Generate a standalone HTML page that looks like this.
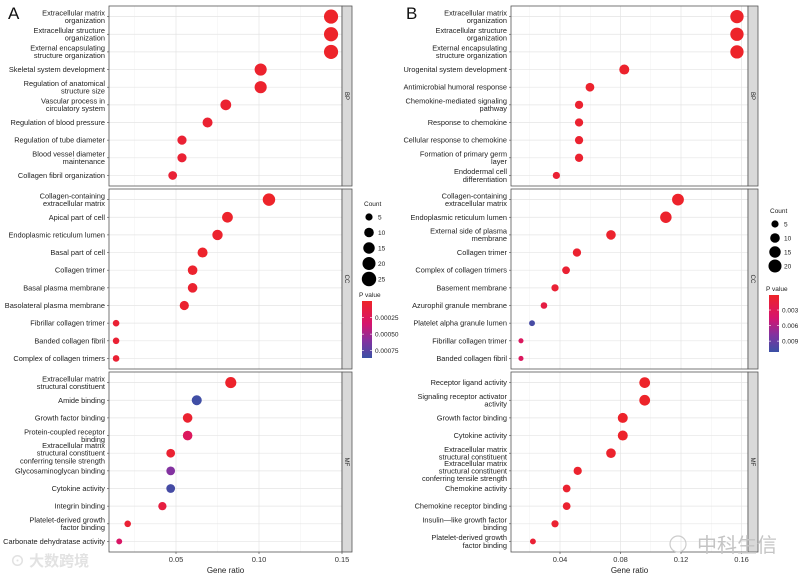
<!DOCTYPE html>
<html><head><meta charset="utf-8">
<style>
html,body{margin:0;padding:0;background:#fff;}
svg{display:block;font-family:"Liberation Sans","Noto Sans CJK SC",sans-serif;}
</style></head>
<body>
<svg id="chart" width="800" height="576" viewBox="0 0 800 576"></svg>
<script>
// ---------- Panel A data ----------
const aBPTerms=["Extracellular matrix\norganization","Extracellular structure\norganization","External encapsulating\nstructure organization","Skeletal system development","Regulation of anatomical\nstructure size","Vascular process in\ncirculatory system","Regulation of blood pressure","Regulation of tube diameter","Blood vessel diameter\nmaintenance","Collagen fibril organization"];
const aBPRatio=[0.1434,0.1434,0.1434,0.101,0.101,0.080,0.069,0.0536,0.0536,0.048];
const aBPCount=[24,24,24,17,17,13,11,9,9,8];
const aBPP=[0.00001,0.00001,0.00001,0.00003,0.00003,0.00004,0.00005,0.00006,0.00006,0.00007];
const aCCTerms=["Collagen-containing\nextracellular matrix","Apical part of cell","Endoplasmic reticulum lumen","Basal part of cell","Collagen trimer","Basal plasma membrane","Basolateral plasma membrane","Fibrillar collagen trimer","Banded collagen fibril","Complex of collagen trimers"];
const aCCRatio=[0.106,0.081,0.075,0.066,0.060,0.060,0.055,0.0139,0.0139,0.0139];
const aCCCount=[18,13,12,11,10,10,9,4,4,4];
const aCCP=[0.00001,0.00002,0.00003,0.00002,0.00003,0.00004,0.00004,0.00006,0.00006,0.00006];
const aMFTerms=["Extracellular matrix\nstructural constituent","Amide binding","Growth factor binding","Protein-coupled receptor\nbinding","Extracellular matrix\nstructural constituent\nconferring tensile strength","Glycosaminoglycan binding","Cytokine activity","Integrin binding","Platelet-derived growth\nfactor binding","Carbonate dehydratase activity"];
const aMFRatio=[0.083,0.0625,0.057,0.057,0.0468,0.0468,0.0468,0.0418,0.0209,0.0158];
const aMFCount=[14,11,10,10,8,8,8,7,4,3];
const aMFP=[0.00002,0.00084,0.00004,0.00026,0.00005,0.00060,0.00082,0.00012,0.00006,0.00030];
const aTicks=[0.05,0.10,0.15];
const aTickLabels=["0.05","0.10","0.15"];
const aCountLegend=[5,10,15,20,25];
const aPTicks=[0.00025,0.00050,0.00075];
const aPTickLabels=["0.00025","0.00050","0.00075"];

// ---------- Panel B data ----------
const bBPTerms=["Extracellular matrix\norganization","Extracellular structure\norganization","External encapsulating\nstructure organization","Urogenital system development","Antimicrobial humoral response","Chemokine-mediated signaling\npathway","Response to chemokine","Cellular response to chemokine","Formation of primary germ\nlayer","Endodermal cell\ndifferentiation"];
const bBPRatio=[0.157,0.157,0.157,0.0825,0.0598,0.0526,0.0526,0.0526,0.0526,0.0376];
const bBPCount=[21,21,21,11,8,7,7,7,7,5];
const bBPP=[0.0002,0.0002,0.0002,0.0004,0.0005,0.0006,0.0006,0.0006,0.0006,0.0008];
const bCCTerms=["Collagen-containing\nextracellular matrix","Endoplasmic reticulum lumen","External side of plasma\nmembrane","Collagen trimer","Complex of collagen trimers","Basement membrane","Azurophil granule membrane","Platelet alpha granule lumen","Fibrillar collagen trimer","Banded collagen fibril"];
const bCCRatio=[0.118,0.110,0.0737,0.0512,0.044,0.0367,0.0294,0.0215,0.0142,0.0142];
const bCCCount=[16,15,10,7,6,5,4,3,2,2];
const bCCP=[0.0003,0.0004,0.0005,0.0006,0.0008,0.0009,0.0018,0.0105,0.0035,0.0035];
const bMFTerms=["Receptor ligand activity","Signaling receptor activator\nactivity","Growth factor binding","Cytokine activity","Extracellular matrix\nstructural constituent","Extracellular matrix\nstructural constituent\nconferring tensile strength","Chemokine activity","Chemokine receptor binding","Insulin\u2014like growth factor\nbinding","Platelet-derived growth\nfactor binding"];
const bMFRatio=[0.096,0.096,0.0815,0.0815,0.0737,0.0517,0.0444,0.0444,0.0367,0.0221];
const bMFCount=[13,13,11,11,10,7,6,6,5,3];
const bMFP=[0.0002,0.0002,0.0003,0.0003,0.0004,0.0005,0.0006,0.0006,0.0007,0.0009];
const bTicks=[0.04,0.08,0.12,0.16];
const bTickLabels=["0.04","0.08","0.12","0.16"];
const bCountLegend=[5,10,15,20];
const bPTicks=[0.003,0.006,0.009];
const bPTickLabels=["0.003","0.006","0.009"];

const NS="http://www.w3.org/2000/svg";
const svg=document.getElementById('chart');
function mk(tag,attrs,parent){const e=document.createElementNS(NS,tag);for(const k in attrs)e.setAttribute(k,attrs[k]);(parent||svg).appendChild(e);return e;}

const stops=[[0,[238,36,40]],[0.4,[214,20,110]],[0.7,[130,50,160]],[1,[58,80,165]]];
function pColor(t){t=Math.max(0,Math.min(1,t));for(let i=1;i<stops.length;i++){if(t<=stops[i][0]){const a=stops[i-1],b=stops[i];const f=(t-a[0])/(b[0]-a[0]);const c=a[1].map((v,j)=>Math.round(v+(b[1][j]-v)*f));return `rgb(${c[0]},${c[1]},${c[2]})`;}}return 'rgb(58,80,165)';}

function drawPanel(cfg){
  const g=mk('g',{});
  
  
  const xS=v=>cfg.x0+v*cfg.k;
  const rS=c=>1.3*Math.sqrt(c)+0.7;
  const pT=p=>(p-cfg.pMin)/(cfg.pMax-cfg.pMin);
  const tops=[6,189,372], H=180, step=17.65;
  const onts=['BP','CC','MF'];
  cfg.facets.forEach((f,fi)=>{
    const t=tops[fi];
    const pg=mk('g',{},g);
    
    
    mk('rect',{x:cfg.left,y:t,width:cfg.right-cfg.left,height:H,fill:'#fff'},pg);
    const minors=[];
    for(let i=0;i<cfg.ticks.length;i++){minors.push(cfg.ticks[i]-cfg.tstep/2);}
    minors.push(cfg.ticks[cfg.ticks.length-1]+cfg.tstep/2);
    minors.forEach(v=>{const x=xS(v);if(x>cfg.left&&x<cfg.right)mk('line',{x1:x,x2:x,y1:t,y2:t+H,stroke:'#f2f2f2','stroke-width':0.5},pg);});
    cfg.ticks.forEach(v=>{const x=xS(v);if(x>cfg.left&&x<cfg.right)mk('line',{x1:x,x2:x,y1:t,y2:t+H,stroke:'#e4e4e4','stroke-width':0.7},pg);});
    f.terms.forEach((term,i)=>{
      const y=t+10.6+i*step;
      mk('line',{x1:cfg.left,x2:cfg.right,y1:y,y2:y,stroke:'#e4e4e4','stroke-width':0.7},pg);
      mk('line',{x1:cfg.left-2,x2:cfg.left,y1:y,y2:y,stroke:'#444','stroke-width':0.6},pg);
      const lines=term.split('\n');
      const tx=mk('text',{x:cfg.left-4,y:0,'font-size':7.4,fill:'#222','text-anchor':'end'},pg);
      
      
      lines.forEach((ln,j)=>{const ts=mk('tspan',{x:cfg.left-4,y:y+2.5+(j-(lines.length-1)/2)*7.6},tx);ts.textContent=ln;});
    });
    f.terms.forEach((term,i)=>{
      const y=t+10.6+i*step;
      const c=mk('circle',{cx:xS(f.ratio[i]),cy:y,r:rS(f.count[i]),fill:pColor(pT(f.p[i]))},pg);
      
      
    });
    mk('rect',{x:cfg.left,y:t,width:cfg.right-cfg.left,height:H,fill:'none',stroke:'#555','stroke-width':0.8},pg);
    const st=mk('rect',{x:cfg.right,y:t,width:10,height:H,fill:'#d9d9d9',stroke:'#555','stroke-width':0.8},pg);
    
    
    const sl=mk('text',{x:0,y:0,'font-size':6,fill:'#222','text-anchor':'middle',transform:`translate(${cfg.right+3},${t+H/2}) rotate(90)`},pg);
    sl.textContent=onts[fi];
  });
  const yb=552;
  cfg.ticks.forEach((v,i)=>{
    const x=xS(v);
    mk('line',{x1:x,x2:x,y1:yb,y2:yb+2,stroke:'#444','stroke-width':0.6},g);
    const tl=mk('text',{x:x,y:yb+10,'font-size':7.5,fill:'#333','text-anchor':'middle'},g);
    
    
    tl.textContent=cfg.tickLabels[i];
  });
  const at=mk('text',{x:(cfg.left+cfg.right)/2,y:yb+21,'font-size':8,fill:'#222','text-anchor':'middle'},g);
  
  
  at.textContent='Gene ratio';
  const pl=mk('text',{x:cfg.letterX,y:19,'font-size':17,fill:'#111'},g);
  
  
  pl.textContent=cfg.letter;
  const lg=mk('g',{},g);
  
  
  const ct=mk('text',{x:cfg.legX,y:cfg.legY,'font-size':6.5,fill:'#222'},lg);ct.textContent='Count';
  cfg.countLegend.forEach((c,i)=>{
    const y=cfg.legY+11+i*cfg.legStep;
    mk('circle',{cx:cfg.legX+5,cy:y,r:rS(c),fill:'#000'},lg);
    const t=mk('text',{x:cfg.legX+14,y:y+2.3,'font-size':6.5,fill:'#222'},lg);t.textContent=c;
  });
  const cb=mk('g',{},g);
  
  
  const pt=mk('text',{x:cfg.cbX-3,y:cfg.cbY-4,'font-size':6.5,fill:'#222'},cb);pt.textContent='P value';
  const gid=cfg.prefix+'grad';
  const defs=mk('defs',{},cb);
  const lgd=mk('linearGradient',{id:gid,x1:0,y1:0,x2:0,y2:1},defs);
  stops.forEach(s=>mk('stop',{offset:s[0],'stop-color':`rgb(${s[1].join(',')})`},lgd));
  mk('rect',{x:cfg.cbX,y:cfg.cbY,width:10,height:cfg.cbH,fill:`url(#${gid})`},cb);
  cfg.pTicks.forEach((p,i)=>{
    const y=cfg.cbY+pT(p)*cfg.cbH;
    mk('line',{x1:cfg.cbX,x2:cfg.cbX+2,y1:y,y2:y,stroke:'#fff','stroke-width':0.6},cb);
    mk('line',{x1:cfg.cbX+8,x2:cfg.cbX+10,y1:y,y2:y,stroke:'#fff','stroke-width':0.6},cb);
    const t=mk('text',{x:cfg.cbX+13,y:y+2.3,'font-size':6.5,fill:'#222'},cb);t.textContent=cfg.pTickLabels[i];
  });
}

drawPanel({name:'panel-a',prefix:'a',letter:'A',letterX:8,x0:93,k:1660,left:109,right:342,
  ticks:aTicks,tickLabels:aTickLabels,tstep:0.05,pMin:0,pMax:0.00086,
  facets:[{terms:aBPTerms,ratio:aBPRatio,count:aBPCount,p:aBPP},{terms:aCCTerms,ratio:aCCRatio,count:aCCCount,p:aCCP},{terms:aMFTerms,ratio:aMFRatio,count:aMFCount,p:aMFP}],
  countLegend:aCountLegend,legX:364,legY:206,legStep:15.5,pTicks:aPTicks,pTickLabels:aPTickLabels,cbX:362,cbY:301,cbH:57});
drawPanel({name:'panel-b',prefix:'b',letter:'B',letterX:406,x0:499.5,k:1512.5,left:511,right:748,
  ticks:bTicks,tickLabels:bTickLabels,tstep:0.04,pMin:0.0001,pMax:0.0111,
  facets:[{terms:bBPTerms,ratio:bBPRatio,count:bBPCount,p:bBPP},{terms:bCCTerms,ratio:bCCRatio,count:bCCCount,p:bCCP},{terms:bMFTerms,ratio:bMFRatio,count:bMFCount,p:bMFP}],
  countLegend:bCountLegend,legX:770,legY:213,legStep:14,pTicks:bPTicks,pTickLabels:bPTickLabels,cbX:769,cbY:295,cbH:57});

const w1=mk('text',{x:10,y:566,'font-size':15,fill:'#e2e2e2','font-weight':'bold'});


w1.textContent='⊙ 大数跨境';
const w2=mk('text',{x:697,y:552,'font-size':20,fill:'#c4c4c4'});


w2.textContent='中科生信';
const w3=mk('circle',{cx:678,cy:544,r:8,fill:'none',stroke:'#cccccc','stroke-width':1.2});


</script>
</body></html>
